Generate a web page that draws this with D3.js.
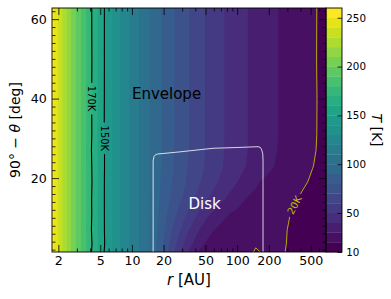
<!DOCTYPE html>
<html lang="en">
<head>
<meta charset="utf-8">
<title>Temperature map</title>
<script src="https://d3js.org/d3.v7.min.js"></script>
<style>
  body { margin: 0; background: #fff; }
  svg { font-family: "DejaVu Sans", sans-serif; }
</style>
</head>
<body>
<script>
// radius grid [AU] (columns) and 90 - theta grid [deg] (rows)
var rAU = [1.74, 2, 2.5, 3, 4, 5, 6, 8, 10, 13, 16, 19, 23, 28, 34, 42, 52, 65, 80, 100,
           125, 150, 170, 190, 230, 280, 340, 420, 520, 620, 698];
var thetaDeg = [1.4, 3.5, 7, 11, 15, 19, 23, 27, 31, 40, 50, 62.8];

// temperature [K], one row per thetaDeg value
var tempK = [
  [255.5, 239.3, 215.5, 197.8, 172.5, 155.2, 144.0, 128.2, 117.0, 105.1, 95.0, 81.9, 66.5, 52.4, 40.2, 29.8, 27.0, 25.0, 23.5, 22.2, 21.1, 19.6, 20.1, 20.8, 21.0, 20.1, 19.1, 18.0, 16.8, 15.9, 15.2],
  [255.5, 239.3, 215.5, 197.8, 173.3, 156.1, 144.6, 128.2, 117.0, 105.1, 95.5, 82.9, 69.1, 56.2, 44.8, 34.5, 28.3, 26.3, 24.5, 23.0, 21.7, 20.4, 20.35, 20.9, 21.2, 20.25, 19.2, 18.3, 17.1, 16.2, 15.5],
  [255.5, 239.3, 215.5, 197.8, 172.2, 155.8, 144.2, 128.2, 117.0, 105.1, 96.0, 84.8, 72.7, 61.9, 51.5, 41.6, 33.4, 28.8, 27.0, 25.2, 23.7, 22.5, 21.9, 21.7, 21.6, 20.35, 19.3, 18.6, 17.5, 16.6, 15.9],
  [255.5, 239.3, 215.5, 197.8, 173.0, 155.0, 144.9, 128.2, 117.0, 105.1, 96.2, 86.5, 76.8, 67.5, 58.8, 50.1, 42.1, 35.8, 30.6, 28.2, 26.3, 24.8, 23.9, 23.2, 22.4, 21.3, 19.4, 18.9, 18.0, 17.1, 16.4],
  [255.5, 239.3, 215.5, 197.8, 172.6, 156.0, 143.8, 128.2, 117.0, 105.1, 96.3, 88.2, 80.1, 72.6, 65.5, 58.0, 51.2, 45.0, 39.4, 34.2, 29.7, 28.2, 27.0, 26.0, 24.4, 22.6, 20.9, 19.2, 18.5, 17.7, 17.1],
  [255.5, 239.3, 215.5, 197.8, 173.4, 155.4, 144.5, 128.2, 117.0, 105.1, 96.5, 89.2, 81.7, 74.9, 68.6, 62.1, 56.1, 50.1, 45.3, 40.2, 35.2, 31.2, 29.4, 28.4, 26.8, 25.2, 23.1, 20.8, 19.2, 18.5, 17.8],
  [255.5, 239.3, 215.5, 197.8, 172.8, 156.2, 144.1, 128.2, 117.0, 105.1, 96.7, 90.1, 82.7, 76.0, 69.8, 64.0, 58.3, 52.8, 48.2, 43.7, 39.3, 36.3, 34.3, 32.5, 29.7, 27.3, 25.0, 22.6, 20.15, 18.8, 17.9],
  [255.5, 239.3, 215.5, 197.8, 172.3, 155.5, 144.7, 128.2, 117.0, 105.1, 96.6, 90.1, 83.1, 76.6, 70.8, 64.3, 58.7, 53.2, 48.7, 44.1, 40.1, 37.0, 35.0, 33.3, 30.6, 27.7, 25.3, 22.9, 20.7, 19.1, 18.1],
  [255.5, 239.3, 215.5, 197.8, 173.1, 155.1, 144.3, 128.2, 117.0, 105.1, 96.5, 90.1, 83.2, 76.7, 70.9, 64.3, 58.7, 53.3, 48.8, 44.3, 40.2, 37.2, 35.3, 33.6, 31.0, 28.0, 25.6, 23.1, 20.9, 19.2, 18.2],
  [255.5, 239.3, 215.5, 197.8, 172.7, 155.9, 143.9, 128.2, 117.0, 105.1, 96.5, 90.1, 83.2, 76.7, 70.9, 64.3, 58.7, 53.3, 48.8, 44.3, 40.2, 37.2, 35.3, 33.6, 31.0, 28.0, 25.6, 23.1, 21.0, 19.2, 18.2],
  [255.5, 239.3, 215.5, 197.8, 173.2, 155.3, 144.6, 128.2, 117.0, 105.1, 96.5, 90.1, 83.2, 76.7, 70.9, 64.3, 58.7, 53.3, 48.8, 44.3, 40.2, 37.2, 35.3, 33.6, 31.0, 28.0, 25.6, 23.1, 20.8, 19.2, 18.2],
  [255.5, 239.3, 215.5, 197.8, 172.8, 155.7, 144.2, 128.2, 117.0, 105.1, 96.5, 90.1, 83.2, 76.7, 70.9, 64.3, 58.7, 53.3, 48.8, 44.3, 40.2, 37.2, 35.3, 33.6, 31.0, 28.0, 25.6, 23.1, 20.9, 19.2, 18.2]
];

// filled contour levels and labelled line contours
var levels = d3.range(10, 261, 10);
var lineLevels = [20, 150, 170];
var lineLabelTheta = [13.2, 30, 40];

// disk boundary (r [AU], 90 - theta [deg])
var diskR = [15.9, 15.9, 16.2, 16.8, 17.5, 28.6, 59, 100, 158, 166, 171, 175, 176, 176];
var diskTheta = [1.4, 24.3, 25.4, 25.9, 26.05, 26.6, 27.5, 27.7, 27.9, 27.7, 27.1, 26.1, 24.5, 1.4];

var regionNames = ["Envelope", "Disk"];
var regionR = [10, 34.5];
var regionTheta = [40, 12.1];

var xTicks = [2, 5, 10, 20, 50, 100, 200, 500];
var yTicks = [20, 40, 60];
var cbarTicks = [10, 50, 100, 150, 200, 250];

// ---- layout
var width = 391, height = 299;
var plot = {x0: 52, x1: 326, y0: 8, y1: 252};
var cbar = {x0: 326, x1: 342};

var svg = d3.select("body").append("svg")
  .attr("width", width)
  .attr("height", height);

var x = d3.scaleLog().domain([rAU[0], rAU[rAU.length - 1]]).range([plot.x0, plot.x1]);
var y = d3.scaleLinear().domain([thetaDeg[0], thetaDeg[thetaDeg.length - 1]]).range([plot.y1, plot.y0]);
var cy = d3.scaleLinear().domain([levels[0], levels[levels.length - 1]]).range([plot.y1, plot.y0]);

var nBands = levels.length - 1;
function bandColor(i) { return d3.interpolateViridis(i / (nBands - 1)); }

var defs = svg.append("defs");
defs.append("clipPath").attr("id", "plotClip")
  .append("rect")
  .attr("x", plot.x0).attr("y", plot.y0)
  .attr("width", plot.x1 - plot.x0).attr("height", plot.y1 - plot.y0);

// ---- contour grid -> screen
var nx = rAU.length, ny = thetaDeg.length;
var values = [];
tempK.forEach(function(row) { values = values.concat(row); });

function nodeValue(c, nodes, useLog) {
  var t = Math.max(0, Math.min(nodes.length - 1, c - 0.5));
  var i = Math.min(Math.floor(t), nodes.length - 2), f = t - i;
  if (useLog) return Math.exp(Math.log(nodes[i]) + f * (Math.log(nodes[i + 1]) - Math.log(nodes[i])));
  return nodes[i] + f * (nodes[i + 1] - nodes[i]);
}
function toPx(p) {
  return [x(nodeValue(p[0], rAU, true)), y(nodeValue(p[1], thetaDeg, false))];
}
var gridPath = d3.geoPath(d3.geoTransform({
  point: function(a, b) { var q = toPx([a, b]); this.stream.point(q[0], q[1]); }
}));

// filled bands
var fills = d3.contours().size([nx, ny]).thresholds(levels.slice(0, -1))(values);
svg.append("g")
  .attr("clip-path", "url(#plotClip)")
  .selectAll("path")
  .data(fills)
  .enter()
  .append("path")
  .attr("d", gridPath)
  .attr("fill", function(d, i) { return bandColor(i); });

// disk outline
var diskLine = d3.line()
  .x(function(d) { return x(d[0]); })
  .y(function(d) { return y(d[1]); });
svg.append("path")
  .attr("clip-path", "url(#plotClip)")
  .attr("d", diskLine(diskR.map(function(r, i) { return [r, diskTheta[i]]; })))
  .attr("fill", "none")
  .attr("stroke", "#fff")
  .attr("stroke-opacity", 0.8)
  .attr("stroke-width", 1);

// line contours: drop the parts that run along the grid border
function onBorder(p) {
  return [p[0] <= 0.5, p[0] >= nx - 0.5, p[1] <= 0.5, p[1] >= ny - 0.5];
}
function borderSegment(p, q) {
  var a = onBorder(p), b = onBorder(q);
  return (a[0] && b[0]) || (a[1] && b[1]) || (a[2] && b[2]) || (a[3] && b[3]);
}
function splitRing(ring) {
  var n = ring.length - 1, keep = [];
  for (var k = 0; k < n; k++) keep.push(!borderSegment(ring[k], ring[k + 1]));
  var start = keep.indexOf(false);
  if (start < 0) return [ring];
  var out = [], cur = [];
  for (var j = 1; j <= n; j++) {
    var s = (start + j) % n;
    if (keep[s]) {
      if (!cur.length) cur.push(ring[s]);
      cur.push(ring[s + 1]);
    } else if (cur.length) { out.push(cur); cur = []; }
  }
  if (cur.length) out.push(cur);
  return out;
}

var lineSets = d3.contours().size([nx, ny]).thresholds(lineLevels)(values);
var lineColor = function(v) { return v < 100 ? "#bfbf00" : "#000"; };

var mask = defs.append("mask").attr("id", "labelGap")
  .attr("maskUnits", "userSpaceOnUse")
  .attr("x", 0).attr("y", 0).attr("width", width).attr("height", height);
mask.append("rect").attr("width", width).attr("height", height).attr("fill", "#fff");

var gLines = svg.append("g").attr("clip-path", "url(#plotClip)")
  .append("g").attr("mask", "url(#labelGap)");
var gLabels = svg.append("g");
var pxLine = d3.line();

lineSets.forEach(function(set, li) {
  var lines = [];
  set.coordinates.forEach(function(poly) {
    poly.forEach(function(ring) {
      splitRing(ring).forEach(function(l) { lines.push(l.map(toPx)); });
    });
  });
  gLines.selectAll(null)
    .data(lines)
    .enter()
    .append("path")
    .attr("d", pxLine)
    .attr("fill", "none")
    .attr("stroke", lineColor(set.value))
    .attr("stroke-width", set.value < 100 ? 0.9 : 1.1);

  // label where the line crosses the chosen angle
  var ty = y(lineLabelTheta[li]), spot = null;
  lines.forEach(function(l) {
    for (var k = 0; k < l.length - 1 && !spot; k++) {
      var a = l[k], b = l[k + 1];
      if (a[1] !== b[1] && (a[1] - ty) * (b[1] - ty) <= 0) {
        var t = (ty - a[1]) / (b[1] - a[1]);
        var ang = Math.atan2(b[1] - a[1], b[0] - a[0]) * 180 / Math.PI;
        if (ang > 90) ang -= 180;
        if (ang <= -90) ang += 180;
        if (Math.abs(ang) > 75) ang = 90;
        spot = {x: a[0] + t * (b[0] - a[0]), y: ty, a: ang};
      }
    }
  });
  if (!spot) return;
  var tr = "translate(" + spot.x + "," + spot.y + ") rotate(" + spot.a + ")";
  var txt = gLabels.append("text")
    .attr("transform", tr)
    .attr("text-anchor", "middle")
    .attr("dy", "0.36em")
    .attr("font-size", 10)
    .attr("fill", lineColor(set.value))
    .text(set.value + "K");
  var w = txt.node().getComputedTextLength() + 6;
  mask.append("rect")
    .attr("transform", tr)
    .attr("x", -w / 2).attr("y", -6)
    .attr("width", w).attr("height", 12)
    .attr("fill", "#000");
});

// region names
svg.selectAll(".region")
  .data(regionNames)
  .enter()
  .append("text")
  .attr("class", "region")
  .attr("x", function(d, i) { return x(regionR[i]); })
  .attr("y", function(d, i) { return y(regionTheta[i]); })
  .attr("font-size", 15)
  .attr("fill", function(d, i) { return i === 0 ? "#000" : "#fff"; })
  .text(function(d) { return d; });

// ---- colorbar
svg.append("g").selectAll("rect")
  .data(d3.range(nBands))
  .enter()
  .append("rect")
  .attr("x", cbar.x0)
  .attr("width", cbar.x1 - cbar.x0)
  .attr("y", function(i) { return cy(levels[i + 1]); })
  .attr("height", function(i) { return cy(levels[i]) - cy(levels[i + 1]) + 0.3; })
  .attr("fill", function(i) { return bandColor(i); });

// ---- axes (ticks pointing inward)
var xMinor = [];
[1, 10, 100].forEach(function(dec) {
  for (var k = 2; k <= 9; k++) {
    var v = k * dec;
    if (v > x.domain()[0] && v < x.domain()[1] && xTicks.indexOf(v) < 0) xMinor.push(v);
  }
});
var yMinor = d3.range(2, 63, 2).filter(function(v) { return v % 20 !== 0 && v < y.domain()[1]; });

function drawAxis(axis, tx, ty, size) {
  var g = svg.append("g")
    .attr("transform", "translate(" + tx + "," + ty + ")")
    .call(axis);
  g.select(".domain").remove();
  g.attr("font-family", "DejaVu Sans").attr("font-size", size || 12.6);
  g.selectAll("line").attr("stroke", "#000").attr("stroke-width", 0.8);
  g.selectAll("text").attr("fill", "#000");
  return g;
}
var none = function() { return ""; };

drawAxis(d3.axisBottom(x).tickValues(xTicks).tickFormat(d3.format("d")).tickSize(-7).tickPadding(4.5), 0, plot.y1);
drawAxis(d3.axisBottom(x).tickValues(xMinor).tickFormat(none).tickSize(-3.5), 0, plot.y1);
drawAxis(d3.axisTop(x).tickValues(xTicks).tickFormat(none).tickSize(-7), 0, plot.y0);
drawAxis(d3.axisTop(x).tickValues(xMinor).tickFormat(none).tickSize(-3.5), 0, plot.y0);
drawAxis(d3.axisLeft(y).tickValues(yTicks).tickSize(-7).tickPadding(5.3), plot.x0, 0);
drawAxis(d3.axisLeft(y).tickValues(yMinor).tickFormat(none).tickSize(-3.5), plot.x0, 0);
drawAxis(d3.axisRight(y).tickValues(yTicks).tickFormat(none).tickSize(-7), plot.x1, 0);
drawAxis(d3.axisRight(y).tickValues(yMinor).tickFormat(none).tickSize(-3.5), plot.x1, 0);
drawAxis(d3.axisRight(cy).tickValues(cbarTicks).tickSize(-4.5).tickPadding(4.3), cbar.x1, 0, 10.3);

// frames
svg.append("rect")
  .attr("x", plot.x0).attr("y", plot.y0)
  .attr("width", plot.x1 - plot.x0).attr("height", plot.y1 - plot.y0)
  .attr("fill", "none").attr("stroke", "#000").attr("stroke-width", 0.9);
svg.append("rect")
  .attr("x", cbar.x0).attr("y", plot.y0)
  .attr("width", cbar.x1 - cbar.x0).attr("height", plot.y1 - plot.y0)
  .attr("fill", "none").attr("stroke", "#000").attr("stroke-width", 0.9);

// axis titles
var xt = svg.append("text")
  .attr("x", (plot.x0 + plot.x1) / 2).attr("y", 284.5)
  .attr("text-anchor", "middle").attr("font-size", 15);
xt.append("tspan").attr("font-style", "italic").text("r");
xt.append("tspan").text(" [AU]");

var yt = svg.append("text")
  .attr("transform", "translate(19.7," + (plot.y0 + plot.y1) / 2 + ") rotate(-90)")
  .attr("text-anchor", "middle").attr("font-size", 14);
yt.append("tspan").text("90° − ");
yt.append("tspan").attr("font-style", "italic").text("θ");
yt.append("tspan").text(" [deg]");

var ct = svg.append("text")
  .attr("transform", "translate(372," + (plot.y0 + plot.y1) / 2 + ") rotate(90)")
  .attr("text-anchor", "middle").attr("font-size", 14);
ct.append("tspan").attr("font-style", "italic").text("T");
ct.append("tspan").text(" [K]");
</script>
</body>
</html>
